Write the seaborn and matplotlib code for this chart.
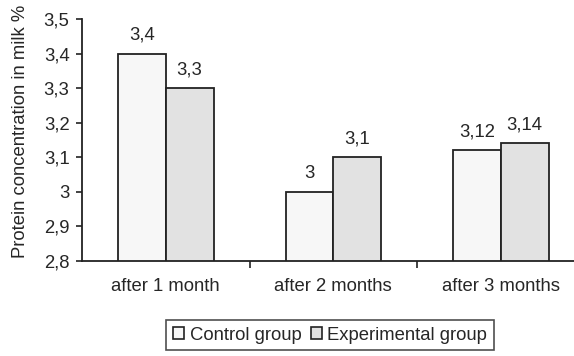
import numpy as np
import pandas as pd
import matplotlib
matplotlib.use('Agg')
import matplotlib.pyplot as plt
import seaborn as sns
from matplotlib.patches import Patch

# datos
periods = ['after 1 month', 'after 2 months', 'after 3 months']
control = [3.4, 3.0, 3.12]
experimental = [3.3, 3.1, 3.14]
groups = ['Control group', 'Experimental group']
y_ticks = [2.8, 2.9, 3.0, 3.1, 3.2, 3.3, 3.4, 3.5]

df = pd.DataFrame({
    'period': periods * 2,
    'protein': control + experimental,
    'group': [groups[0]] * 3 + [groups[1]] * 3,
})

sns.set_style('white')
plt.rcParams['font.family'] = ['Liberation Sans', 'DejaVu Sans']
fs = 13.3

fig = plt.figure(figsize=(5.74, 3.56), dpi=100)
ax = fig.add_axes([82 / 574, 95 / 356, 492 / 574, 242 / 356])

colors = ['#f7f7f7', '#e2e2e2']
sns.barplot(data=df, x='period', y='protein', hue='group', palette=colors,
            width=0.57, edgecolor='#222222', linewidth=1.3, ax=ax, legend=False)

def fmt(v):
    s = f'{v:.2f}'.rstrip('0').rstrip('.')
    return s.replace('.', ',')

for cont in ax.containers:
    ax.bar_label(cont, labels=[fmt(b.get_height()) for b in cont],
                 padding=7, fontsize=fs)

ax.set_ylim(2.8, 3.5)
ax.set_xlim(-0.5, 2.437)
ax.set_yticks(y_ticks)
ax.set_yticklabels([fmt(t) for t in y_ticks], fontsize=fs)
ax.set_xticks(range(3))
ax.set_xticklabels(periods, fontsize=fs)
ax.set_xticks([0.5, 1.5], minor=True)
ax.tick_params(axis='x', which='major', bottom=True, length=0, pad=12)
ax.tick_params(axis='x', which='minor', bottom=True, length=5, width=1.2,
               color='#222222', direction='out')
ax.tick_params(axis='y', left=True, length=4, width=1.2, color='#222222',
               direction='out', pad=5)
ax.set_xlabel('')
ax.set_ylabel('Protein concentration in milk %', fontsize=fs)
ax.yaxis.set_label_coords(-0.108, 0.537)

sns.despine(ax=ax, top=True, right=True)
for s in ['left', 'bottom']:
    ax.spines[s].set_color('#222222')
    ax.spines[s].set_linewidth(1.3)

handles = [Patch(facecolor=c, edgecolor='#222222', linewidth=1.2) for c in colors]
leg = fig.legend(handles, groups, loc='center', bbox_to_anchor=(330 / 574, 1 - 335 / 356),
                 ncol=2, fontsize=fs, frameon=True, fancybox=False, handlelength=0.6,
                 handleheight=0.6, handletextpad=0.3, columnspacing=0.5,
                 borderpad=0.35, borderaxespad=0)
leg.get_frame().set_edgecolor('#222222')
leg.get_frame().set_linewidth(1.2)

plt.savefig('out.png', dpi=100)
plt.close()
